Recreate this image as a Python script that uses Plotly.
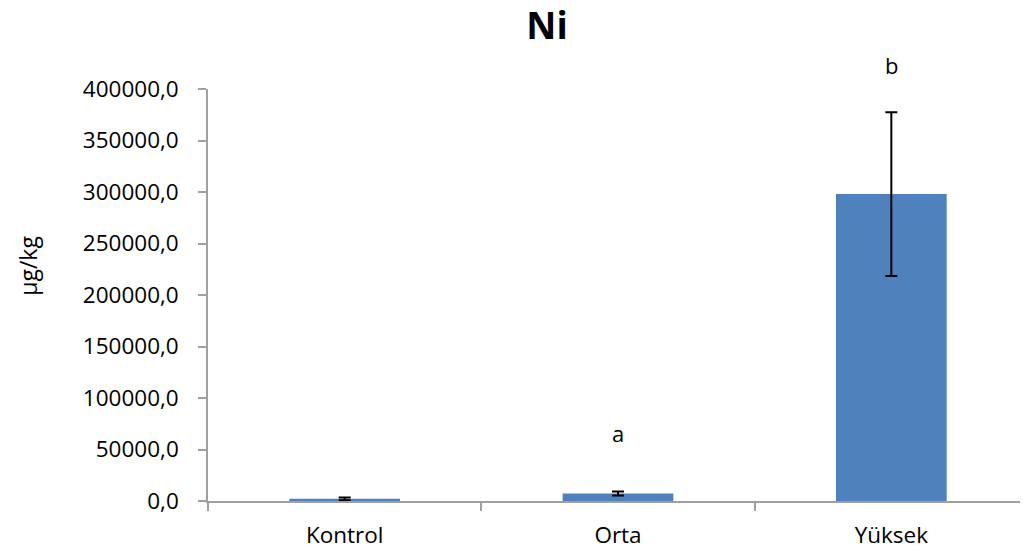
import plotly.graph_objects as go

categories = ["Kontrol", "Orta", "Yüksek"]
values = [2100, 7300, 298000]
errors = [1300, 1900, 79500]
letters = ["", "a", "b"]
letter_y = [0, 66300, 423000]
tick_vals = [0, 50000, 100000, 150000, 200000, 250000, 300000, 350000, 400000]
tick_text = ["0,0", "50000,0", "100000,0", "150000,0", "200000,0", "250000,0", "300000,0", "350000,0", "400000,0"]

FONT = "Open Sans"
YMAX = 400000
# page body has an 8px default margin, so the figure is laid out 8px smaller
W, H = 1020, 543
OFF = 8

fig = go.Figure()
fig.add_trace(go.Bar(
    x=categories, y=values,
    marker=dict(color="#4F81BD", line=dict(width=0)),
    width=0.405,
    error_y=dict(type="data", array=errors, visible=True, color="black", thickness=2, width=6),
))

for c, t, yv in zip(categories, letters, letter_y):
    if t:
        fig.add_annotation(x=c, y=yv / YMAX, text=t, showarrow=False, xref="x", yref="y domain",
                           yanchor="middle", font=dict(family=FONT, size=22, color="black"))

fig.add_annotation(xref="paper", yref="paper",
                   x=(28 - 208) / (1028 - 208), y=(501.5 - 266) / (501.5 - 89),
                   xanchor="center", yanchor="middle",
                   text="µg/kg", showarrow=False, textangle=-90,
                   font=dict(family=FONT, size=23, color="black"))

fig.update_layout(
    width=W, height=H,
    margin=dict(l=208 - OFF, r=0, t=89 - OFF, b=49.5, pad=0),
    paper_bgcolor="white", plot_bgcolor="white",
    showlegend=False,
    title=dict(text="<b>Ni</b>", x=(547 - OFF) / W, xref="container", xanchor="center",
               y=1 - 18 / H, yref="container", yanchor="middle",
               font=dict(family=FONT, size=37, color="black")),
    font=dict(family=FONT, color="black"),
    bargap=0.6,
)
fig.update_xaxes(
    automargin=False,
    showline=True, linecolor="#A0A0A0", linewidth=1.5,
    ticks="outside", tickson="boundaries", ticklen=8, tickcolor="#A0A0A0", tickwidth=1.5,
    showgrid=False, tickfont=dict(family=FONT, size=22.5, color="black"),
    ticklabelstandoff=13,
)
fig.update_yaxes(
    automargin=False,
    range=[0, YMAX], tickvals=tick_vals, ticktext=tick_text,
    showline=True, linecolor="#A0A0A0", linewidth=1.5,
    ticks="outside", ticklen=8, tickcolor="#A0A0A0", tickwidth=1.5,
    showgrid=False, zeroline=False,
    tickfont=dict(family=FONT, size=22.5, color="black"),
    ticklabelstandoff=15,
)

fig.write_html("out.html")
